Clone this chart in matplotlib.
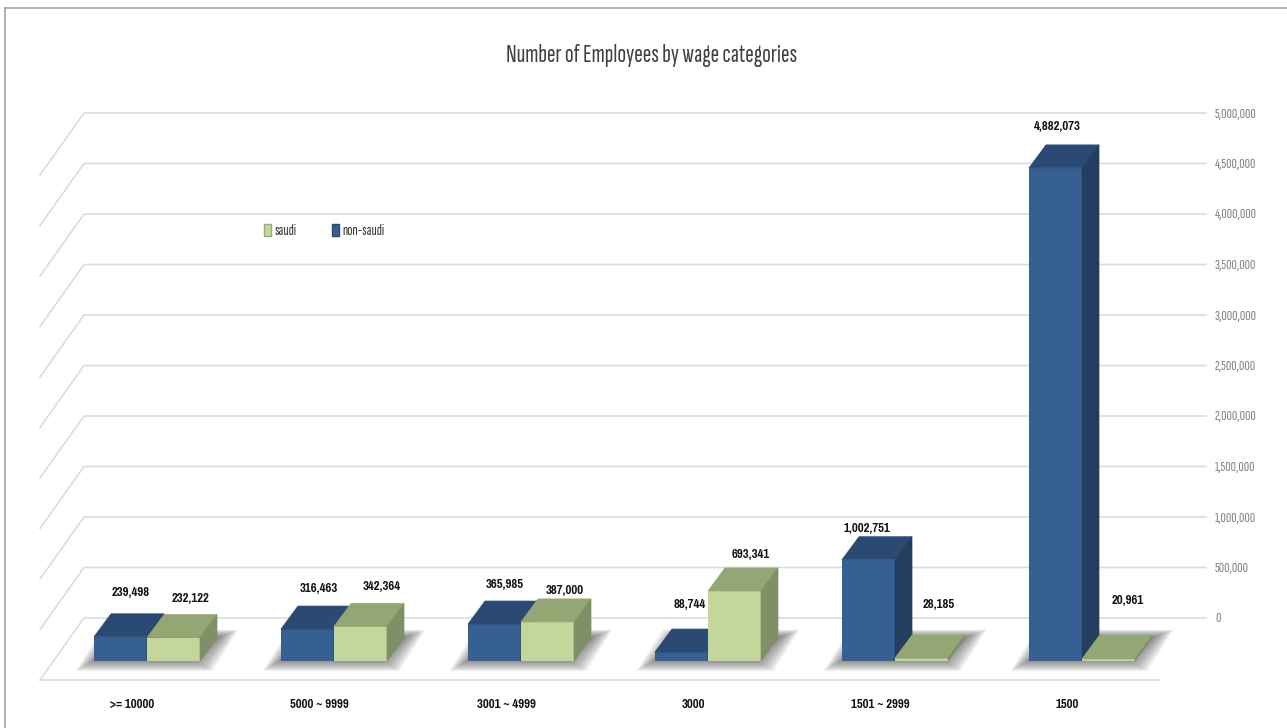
import matplotlib
matplotlib.use("Agg")
import matplotlib.pyplot as plt
from matplotlib.patches import Polygon, Patch

NARROW = ['Sofia Sans Extra Condensed', 'Liberation Sans']
BOLD = ['Pragati Narrow', 'Liberation Sans']

categories = ['>= 10000', '5000 ~ 9999', '3001 ~ 4999', '3000', '1501 ~ 2999', '1500']
non_saudi = [239498, 316463, 365985, 88744, 1002751, 4882073]
saudi = [232122, 342364, 387000, 693341, 28185, 20961]
ticks = [0, 500000, 1000000, 1500000, 2000000, 2500000, 3000000, 3500000, 4000000, 4500000, 5000000]

# label placement in pixels, labels were dragged by hand in the original
blue_lab_x = [131, 319, 505, 690, 867, 1057]
blue_lab_y = [592, 589, 584, 604, 528, 126]
green_lab_x = [190, 382, 565, 751, 939, 1128]
green_lab_y = [599, 586, 590, 555, 605, 601]

W, H = 1287, 728
SLOT = 187.0      # px per category
ORIGIN = 147.0    # px of the first category
PER_PX = 5000000 / 505.0

def xd(px):
    return (px - ORIGIN) / SLOT

def yd(py):
    return (618 - py) * PER_PX

fig = plt.figure(figsize=(W / 100, H / 100), dpi=100)
ax = fig.add_axes([0, 0, 1, 1])
ax.set_xlim(xd(0), xd(W))
ax.set_ylim(yd(H), yd(0))
ax.axis('off')

bar_w = 53 / SLOT
dx = 17 / SLOT
dy = 23 * PER_PX
base = yd(661)
grid_c = '#dcdcdc'

# chart frame
ax.plot([xd(5), xd(5)], [yd(728), yd(8)], color='#a6a6a6', lw=1.2, zorder=1)
ax.plot([xd(5), xd(1287)], [yd(8), yd(8)], color='#a6a6a6', lw=1.2, zorder=1)

# walls
for t in ticks:
    ax.plot([xd(40), xd(84), xd(1206)], [t + yd(680), t, t], color=grid_c, lw=1.2, zorder=1)
    ax.text(xd(1215), t - PER_PX, f'{t:,}', color='#7f7f7f', fontsize=10.5, family=NARROW, va='center', ha='left')
ax.plot([xd(40), xd(1160)], [yd(680), yd(680)], color=grid_c, lw=1.2, zorder=1)

# soft shadows below each pair
skew = 26 / SLOT
for i in range(len(categories)):
    for k in range(14):
        g = (14 - k) * 1.5
        x0 = i + (74 + g - ORIGIN) / SLOT
        x1 = i + (214 - g - ORIGIN) / SLOT
        low = yd(672 - g * 0.6)
        high = yd(629 + g * 0.4)
        ax.add_patch(Polygon([(x0, low), (x1, low), (x1 + skew, high), (x0 + skew, high)],
                             closed=True, fc='#505050', ec='none', alpha=0.07, zorder=2))

def draw_box(x, val, front, top, side):
    y = base + val
    ax.bar(x, val, bar_w, bottom=base, align='edge', color=front, edgecolor='none', zorder=4)
    ax.add_patch(Polygon([(x, y), (x + bar_w, y), (x + bar_w + dx, y + dy), (x + dx, y + dy)],
                         closed=True, fc=top, ec=top, lw=0.5, zorder=4))
    ax.add_patch(Polygon([(x + bar_w, base), (x + bar_w + dx, base + dy), (x + bar_w + dx, y + dy), (x + bar_w, y)],
                         closed=True, fc=side, ec=side, lw=0.5, zorder=4))

for i in range(len(categories)):
    draw_box(i - bar_w, non_saudi[i], '#366092', '#2a4a73', '#233e5e')
    draw_box(i, saudi[i], '#c4d79b', '#95a675', '#7f8f66')
    ax.text(xd(blue_lab_x[i]), yd(blue_lab_y[i]), f'{non_saudi[i]:,}', fontsize=10, fontweight='bold',
            family=BOLD, ha='center', va='center', color='#111111', zorder=6)
    ax.text(xd(green_lab_x[i]), yd(green_lab_y[i]), f'{saudi[i]:,}', fontsize=10, fontweight='bold',
            family=BOLD, ha='center', va='center', color='#111111', zorder=6)
    ax.text(i - 15 / SLOT, yd(704), categories[i], fontsize=10, fontweight='bold',
            family=BOLD, ha='center', va='center', color='#111111')

ax.text(xd(652), yd(55), 'Number of Employees by wage categories', fontsize=18.5, family=NARROW,
        ha='center', va='center', color='#404040')

handles = [Patch(fc='#c4d79b', ec='#9aaa78', label='saudi'), Patch(fc='#366092', ec='#2a4a73', label='non-saudi')]
ax.legend(handles=handles, ncol=2, frameon=False, loc='center left',
          prop={'family': NARROW, 'size': 11},
          bbox_to_anchor=(250 / W, 1 - 231 / H), handlelength=0.45, handleheight=0.9,
          handletextpad=0.25, columnspacing=2.3, labelcolor='#333333')

fig.savefig('out.png', dpi=100)
